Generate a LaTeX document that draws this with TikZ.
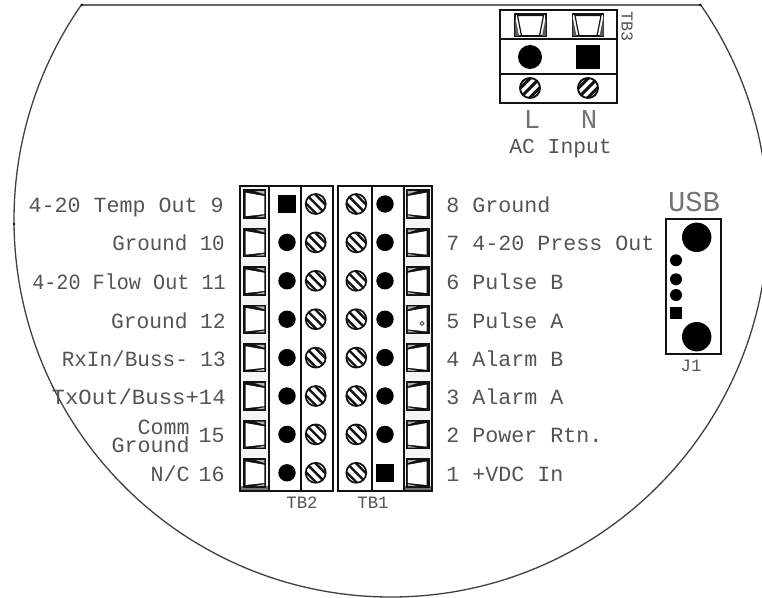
\documentclass[tikz,border=0pt]{standalone}
\usepackage{fontspec}
\setmainfont{Liberation Mono}
\definecolor{ink}{gray}{0.07}
\definecolor{txt}{gray}{0.33}
\tikzset{
  pxl/.style={line width=#1*0.75pt},
  lbl/.style={inner sep=0pt,text=txt,font=\fontsize{16.25}{18}\selectfont},
  lblL/.style={lbl,anchor=base east},
  lblR/.style={lbl,anchor=base west},
  tag/.style={inner sep=0pt,text=txt,font=\fontsize{13}{15}\selectfont},
  rim/.style={pxl=1.3,draw=black!75,line cap=round},
  frame/.style={pxl=2,draw=ink},
  dotmark/.style={fill=black},
  terminal/.pic={
    \fill[ink] (-11.7,-14.7) rectangle (11.7,14.7);
    \fill[white] (-8.7,-11.3) -- (10,-8) -- (10,10.2) -- (-8.7,12.2) -- cycle;
    \fill[black!30] (1,-12.8) -- (10,-12.8) -- (10,-9.8) -- cycle;
    \fill[black!30] (1,13.2) -- (10,13.2) -- (10,11.2) -- cycle;
  },
  screwback/.pic={
    \begin{scope}
      \clip (0,0) circle[radius=10];
      \fill[white] (-11,-11) rectangle (11,11);
      \foreach \d in {-4.6,0,4.6}
        \draw[pxl=2.4,ink] (-12+\d,-12-\d) -- (12+\d,12-\d);
    \end{scope}
    \draw[pxl=1.7,ink] (0,0) circle[radius=10];
  },
  screwfwd/.pic={
    \begin{scope}
      \clip (0,0) circle[radius=10];
      \fill[white] (-11,-11) rectangle (11,11);
      \foreach \d in {-4.8,0,4.8}
        \draw[pxl=3,ink] (-12+\d,12+\d) -- (12+\d,-12+\d);
    \end{scope}
    \draw[pxl=1.9,ink] (0,0) circle[radius=10];
  },
  acterm/.pic={
    \draw[pxl=1.8,ink,fill=white] (-15.5,-11) rectangle (15.5,11);
    \fill[ink!70] (-15.5,-9) -- (-11.5,11) -- (-15.5,11) -- cycle;
    \fill[ink!70] (15.5,-9) -- (11.5,11) -- (15.5,11) -- cycle;
    \draw[pxl=1.2,ink] (-13,-9.5) -- (13,-9.5) -- (9,11) -- (-9,11) -- cycle;
  }
}
\begin{document}
\begin{tikzpicture}[x=0.75pt,y=-0.75pt]
\useasboundingbox (0,0) rectangle (762,598);
\fill[white] (0,0) rectangle (762,598);

% housing outline: circle cut flat at the top
\begin{scope}
  \clip (0,5) rectangle (762,598);
  \draw[rim] (391,220) circle[radius=377];
\end{scope}
\draw[rim,draw=black!60] (82,5) -- (700,5);
\fill[ink] (82,5) circle[radius=1.5];
\fill[ink] (700,5) circle[radius=1.5];
\fill[ink] (14,224) circle[radius=1.4];

% TB2 / TB1 bodies
\fill[black!4] (240,186) rectangle (268.5,491);
\fill[black!4] (404,186) rectangle (432,491);
\fill[black!55] (240,486) rectangle (268.5,491);
\fill[black!55] (404,486) rectangle (432,491);
\draw[frame] (240,186) rectangle (333,491);
\draw[frame] (338,186) rectangle (432,491);
\draw[frame] (268.5,186) -- (268.5,491);
\draw[frame] (301,186) -- (301,491);
\draw[frame] (372,186) -- (372,491);
\draw[frame] (404,186) -- (404,491);

\foreach \i in {0,...,7} {
  \pgfmathsetmacro{\ry}{204+38.4*\i}
  \pic at (254.3,\ry) {terminal};
  \pic[xscale=-1] at (417.8,\ry) {terminal};
  \pic at (315.7,\ry) {screwback};
  \pic at (356.3,\ry) {screwback};
  \ifnum\i>0
    \fill[dotmark] (287,\ry) circle[radius=8.7];
  \else
    \fill[dotmark] (278.3,\ry-8.7) rectangle (295.7,\ry+8.7);
  \fi
  \ifnum\i<7
    \fill[dotmark] (385,\ry) circle[radius=8.7];
  \else
    \fill[dotmark] (376.3,\ry-8.7) rectangle (393.7,\ry+8.7);
  \fi
}
\draw[pxl=0.9,black!70] (422,323.5) circle[radius=1.9];

% TB3
\draw[pxl=2.4,ink] (500,10) rectangle (617,103);
\draw[pxl=2,ink] (500,39.5) -- (617,39.5);
\draw[pxl=2,ink] (500,74) -- (617,74);
\pic at (530.5,25) {acterm};
\pic at (588,25) {acterm};
\fill[dotmark] (530,57) circle[radius=12];
\fill[dotmark] (576,45) rectangle (600,69);
\pic at (530,88) {screwfwd};
\pic at (588,88) {screwfwd};

% J1
\draw[pxl=2.2,ink] (665.7,219.3) rectangle (720.7,354.3);
\fill[dotmark] (696.7,237.3) circle[radius=14.7];
\fill[dotmark] (696.7,336.7) circle[radius=14.7];
\fill[dotmark] (676,260.3) circle[radius=6];
\fill[dotmark] (676,279.3) circle[radius=6];
\fill[dotmark] (676,295) circle[radius=6];
\fill[dotmark] (670,307.3) rectangle (682,319.3);

% left labels
\node[lblL] (l9)  at (224,212.5) {4-20 Temp Out 9};
\node[lblL] (l10) at (225,251)   {\scalebox{0.96}[1]{Ground 10}};
\node[lblL] (l11) at (226,289.5) {\scalebox{0.93}[1]{4-20 Flow Out 11}};
\node[lblL] (l12) at (226,328)   {\scalebox{0.98}[1]{Ground 12}};
\node[lblL] (l13) at (226,366)   {\scalebox{0.97}[1]{RxIn/Buss- 13}};
\node[lblL] (l14) at (226,404.5) {\scalebox{1.03}[1]{TxOut/Buss+14}};
\node[lbl,anchor=east,align=right,font=\fontsize{16.25}{13.5}\selectfont] (lcg) at (190,436) {Comm\\Ground};
\node[lblL] (l15) at (225,442.5) {15};
\node[lblL] (lnc) at (190,481)   {N/C};
\node[lblL] (l16) at (225,481)   {16};

% right labels
\node[lblR] (r8) at (446,212.5) {8 Ground};
\node[lblR] (r7) at (446,251)   {7 4-20 Press Out};
\node[lblR] (r6) at (446,289.5) {6 Pulse B};
\node[lblR] (r5) at (446,328)   {5 Pulse A};
\node[lblR] (r4) at (446,366)   {4 Alarm B};
\node[lblR] (r3) at (446,404.5) {3 Alarm A};
\node[lblR] (r2) at (446,442.5) {2 Power Rtn.};
\node[lblR] (r1) at (446,481)   {1 +VDC In};

% tags
\node[tag] (tb2) at (302,503) {TB2};
\node[tag] (tb1) at (373,503) {TB1};
\node[tag,font=\fontsize{12.5}{14}\selectfont,rotate=-90] (tb3) at (627,27) {TB3};
\node[tag] (j1) at (691,366) {J1};
\node[tag,anchor=base,text=black!55,font=\fontsize{20.5}{22}\selectfont] (acl) at (532,129) {L};
\node[tag,anchor=base,text=black!55,font=\fontsize{20.5}{22}\selectfont] (acn) at (589,129) {N};
\node[tag,anchor=base,font=\fontsize{16}{18}\selectfont] (acin) at (560.5,154) {AC Input};
\node[tag,anchor=base,text=black!55,font=\fontsize{21.6}{24}\selectfont] (usb) at (694,212) {USB};
\end{tikzpicture}
\end{document}
